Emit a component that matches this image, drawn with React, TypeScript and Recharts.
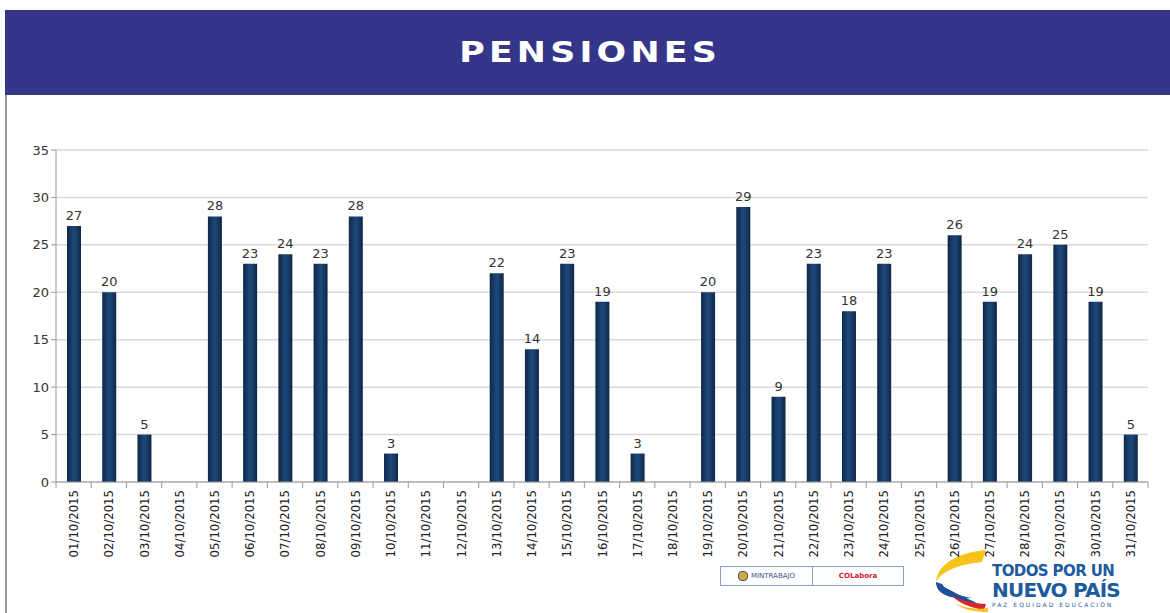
import React from 'react';
import { BarChart, Bar, XAxis, YAxis, CartesianGrid, LabelList } from 'recharts';

const dates = [
  '01/10/2015','02/10/2015','03/10/2015','04/10/2015','05/10/2015','06/10/2015','07/10/2015','08/10/2015',
  '09/10/2015','10/10/2015','11/10/2015','12/10/2015','13/10/2015','14/10/2015','15/10/2015','16/10/2015',
  '17/10/2015','18/10/2015','19/10/2015','20/10/2015','21/10/2015','22/10/2015','23/10/2015','24/10/2015',
  '25/10/2015','26/10/2015','27/10/2015','28/10/2015','29/10/2015','30/10/2015','31/10/2015',
];
const pensiones: (number | null)[] = [
  27, 20, 5, null, 28, 23, 24, 23, 28, 3, null, null, 22, 14, 23, 19, 3, null, 20, 29, 9, 23, 18, 23, null, 26, 19, 24, 25, 19, 5,
];
const yTicks = [0, 5, 10, 15, 20, 25, 30, 35];

const data = dates.map((d, i) => ({ date: d, value: pensiones[i] }));

const BAND = (1148 - 56) / dates.length;

const XTick = (props: any) => {
  const { x, y, payload, index } = props;
  return (
    <g>
      <line x1={x - BAND / 2} x2={x - BAND / 2} y1={y - 8} y2={y - 2} stroke="#999" />
      {index === dates.length - 1 && (
        <line x1={x + BAND / 2} x2={x + BAND / 2} y1={y - 8} y2={y - 2} stroke="#999" />
      )}
      <text
        x={x}
        y={y}
        transform={`rotate(-90, ${x}, ${y})`}
        textAnchor="end"
        dominantBaseline="central"
        fontSize={13}
        fontFamily="'Liberation Sans Narrow', 'DejaVu Sans Condensed', sans-serif"
        fill="#222"
      >
        {payload.value}
      </text>
    </g>
  );
};

export default function App() {
  return (
    <div style={{ position: 'absolute', left: 0, top: 0, width: 1170, height: 613, background: '#fff', overflow: 'hidden' }}>
      <div style={{ position: 'absolute', left: 5, top: 10, width: 1165, height: 85, background: '#35358A' }} />
      <div
        style={{
          position: 'absolute', left: 5, top: 10, width: 1165, height: 85,
          display: 'flex', alignItems: 'center', justifyContent: 'center',
        }}
      >
        <span
          style={{
            display: 'inline-block', color: '#fff', fontFamily: "'DejaVu Sans', Verdana, sans-serif", fontWeight: 'bold',
            fontSize: 29, letterSpacing: 3.5, transform: 'scaleX(1.2)', marginLeft: 6, marginTop: -2,
          }}
        >
          PENSIONES
        </span>
      </div>
      <div style={{ position: 'absolute', left: 5, top: 95, width: 2, height: 518, background: '#9a9a9a' }} />
      {/* logos (drawn beneath the chart) */}
      <div style={{ position: 'absolute', left: 720, top: 566, width: 182, height: 18, border: '1px solid #8aa0c8', display: 'flex', fontFamily: "'DejaVu Sans', sans-serif", fontSize: 7 }}>
        <div style={{ width: 91, borderRight: '1px solid #8aa0c8', display: 'flex', alignItems: 'center', justifyContent: 'center', color: '#4a4f8a' }}>
          <span style={{ display: 'inline-block', width: 8, height: 8, borderRadius: 4, background: '#d4a93a', border: '1px solid #4a4f8a', marginRight: 3 }} />
          MINTRABAJO
        </div>
        <div style={{ flex: 1, display: 'flex', alignItems: 'center', justifyContent: 'center', color: '#d0202e', fontWeight: 'bold' }}>
          COLabora
        </div>
      </div>
      <svg style={{ position: 'absolute', left: 932, top: 548 }} width={58} height={64}>
        <path d="M54 2 C30 4 6 14 4 34 C10 22 30 16 50 14 Z" fill="#f7c21a" />
        <path d="M4 34 C4 46 18 52 40 50 C28 48 14 44 10 36 Z" fill="#1d4f9a" />
        <path d="M10 38 C18 50 34 56 50 58 C40 52 28 48 18 42 Z" fill="#1d4f9a" />
        <path d="M20 48 C28 56 40 60 52 62 L54 56 C42 56 30 52 20 48 Z" fill="#d7262e" />
        <path d="M24 56 C32 62 44 64 56 64 L56 60 C46 62 34 60 24 56 Z" fill="#f7c21a" />
      </svg>
      <div style={{ position: 'absolute', left: 992, top: 564, fontFamily: "'DejaVu Sans', sans-serif", fontWeight: 'bold', color: '#1e5a9e', lineHeight: 1 }}>
        <div style={{ fontSize: 15, letterSpacing: -0.6 }}>TODOS POR UN</div>
        <div style={{ fontSize: 20, letterSpacing: -0.8, marginTop: 1 }}>NUEVO PAÍS</div>
        <div style={{ fontSize: 6, letterSpacing: 2, marginTop: 2, fontWeight: 'normal' }}>PAZ  EQUIDAD  EDUCACIÓN</div>
      </div>
      <div style={{ position: 'absolute', left: 0, top: 0 }}>
        <BarChart width={1170} height={613} data={data} margin={{ top: 150, right: 22, bottom: 51, left: 0 }} barCategoryGap="30%">
          <defs>
            <linearGradient id="barGrad" x1="0" y1="0" x2="1" y2="0">
              <stop offset="0%" stopColor="#0e2748" />
              <stop offset="45%" stopColor="#1d4676" />
              <stop offset="55%" stopColor="#1d4676" />
              <stop offset="100%" stopColor="#0e2748" />
            </linearGradient>
          </defs>
          <CartesianGrid vertical={false} stroke="#d9d9d9" strokeWidth={1.5} />
          <XAxis
            dataKey="date"
            interval={0}
            height={80}
            tick={<XTick />}
            tickLine={false}
            axisLine={{ stroke: '#999' }}
            tickMargin={2}
          />
          <YAxis
            domain={[0, 35]}
            ticks={yTicks}
            width={56}
            tick={{ fontSize: 13, fill: '#333', fontFamily: "'DejaVu Sans', Verdana, sans-serif" }}
            tickLine={{ stroke: '#999' }}
            tickSize={5}
            axisLine={{ stroke: '#999' }}
          />
          <Bar dataKey="value" fill="url(#barGrad)" barSize={14} isAnimationActive={false}>
            <LabelList
              dataKey="value"
              position="top"
              offset={6}
              style={{ fontSize: 13, fill: '#333', fontFamily: "'DejaVu Sans', Verdana, sans-serif" }}
            />
          </Bar>
        </BarChart>
      </div>
    </div>
  );
}
